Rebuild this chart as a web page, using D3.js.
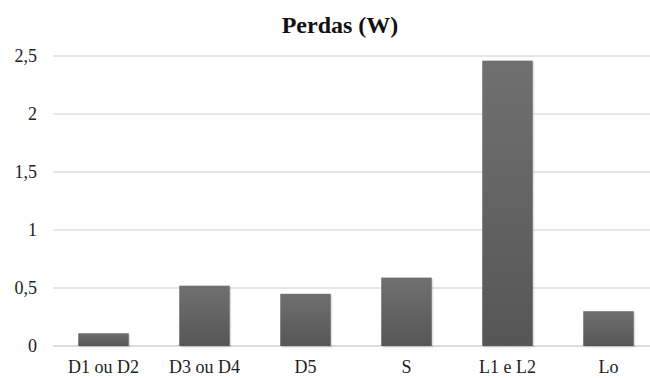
<!DOCTYPE html>
<html>
<head>
<meta charset="utf-8">
<script src="https://cdn.jsdelivr.net/npm/d3@7"></script>
</head>
<body style="margin:0">
<svg id="chart" width="650" height="378"></svg>
<script>
// chart data
const categories = ["D1 ou D2", "D3 ou D4", "D5", "S", "L1 e L2", "Lo"];
const losses = [0.11, 0.52, 0.45, 0.59, 2.46, 0.30];
const yTicks = [0, 0.5, 1, 1.5, 2, 2.5];

const W = 650;
const H = 378;
const margin = { left: 53, right: -9, top: 56, bottom: 32 };
const serifFont = "'Liberation Serif', 'Times New Roman', serif";

const svg = d3.select("#chart");

// gradient for bars (a bit lighter at the top)
const defs = svg.append("defs");
const grad = defs.append("linearGradient")
  .attr("id", "barGrad")
  .attr("x1", 0).attr("y1", 0).attr("x2", 0).attr("y2", 1);
grad.append("stop").attr("offset", "0%").attr("stop-color", "#707070");
grad.append("stop").attr("offset", "100%").attr("stop-color", "#565656");

const x = d3.scaleBand()
  .domain(categories)
  .range([margin.left, W - margin.right])
  .paddingInner(0.5)
  .paddingOuter(0.25);

const y = d3.scaleLinear()
  .domain([0, 2.5])
  .range([H - margin.bottom, margin.top]);

const fmt = (d) => String(d).replace(".", ",");

// title
svg.append("text")
  .attr("x", 340)
  .attr("y", 33)
  .attr("text-anchor", "middle")
  .style("font-family", serifFont, "important")
  .style("font-size", "24px")
  .style("font-weight", "bold")
  .style("fill", "#111")
  .text("Perdas (W)");

// y axis labels
svg.selectAll("text.ylab")
  .data(yTicks)
  .enter()
  .append("text")
  .attr("class", "ylab")
  .attr("x", 37)
  .attr("y", (d) => y(d) + 6)
  .attr("text-anchor", "end")
  .style("font-family", serifFont, "important")
  .style("font-size", "18px")
  .style("fill", "#222")
  .text(fmt);

// x axis labels
svg.selectAll("text.xlab")
  .data(categories)
  .enter()
  .append("text")
  .attr("class", "xlab")
  .attr("x", (d) => x(d) + x.bandwidth() / 2)
  .attr("y", 373)
  .attr("text-anchor", "middle")
  .style("font-family", serifFont, "important")
  .style("font-size", "18px")
  .style("fill", "#222")
  .text((d) => d);

// gridlines
svg.append("g")
  .selectAll("line")
  .data(yTicks)
  .enter()
  .append("line")
  .attr("x1", margin.left)
  .attr("x2", W)
  .attr("y1", (d) => y(d))
  .attr("y2", (d) => y(d))
  .attr("stroke", (d) => d === 0 ? "#d0d0d0" : "#dedede")
  .attr("stroke-width", 1.5);

// bars, soft shadow first then body
const bars = svg.append("g");
bars.selectAll("rect.sh")
  .data(losses)
  .enter()
  .append("rect")
  .attr("class", "sh")
  .attr("x", (d, i) => x(categories[i]) + 1.5)
  .attr("width", x.bandwidth())
  .attr("y", (d) => y(d) + 1.5)
  .attr("height", (d) => y(0) - y(d))
  .attr("fill", "#000")
  .attr("opacity", 0.12);

bars.selectAll("rect.bar")
  .data(losses)
  .enter()
  .append("rect")
  .attr("class", "bar")
  .attr("x", (d, i) => x(categories[i]))
  .attr("width", x.bandwidth())
  .attr("y", (d) => y(d))
  .attr("height", (d) => y(0) - y(d))
  .attr("fill", "url(#barGrad)");
</script>
</body>
</html>
